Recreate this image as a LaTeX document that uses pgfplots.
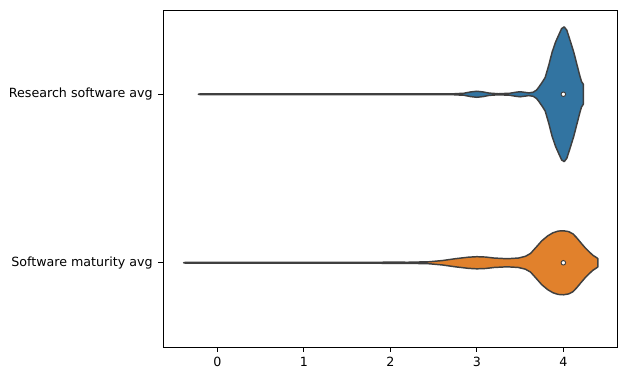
\documentclass[border=0pt]{standalone}
\usepackage{fontspec}
\setmainfont{DejaVu Sans}
\usepackage{pgfplots}
\pgfplotsset{compat=1.18}
\definecolor{vblue}{HTML}{3274A1}
\definecolor{vorange}{HTML}{E1812C}
\definecolor{edge}{HTML}{3F3F3F}
\begin{document}
\begin{tikzpicture}
\path[use as bounding box] (-122.25pt,-24.75pt) rectangle (348pt,260.25pt);
\begin{axis}[
  at={(0,0)}, anchor=south west,
  scale only axis, width=340.5pt, height=252.75pt,
  xmin=-0.628, xmax=4.62, ymin=-0.5, ymax=1.5,
  y dir=reverse,
  xtick={0,1,2,3,4},
  ytick={0,1},
  xtick pos=bottom, ytick pos=left,
  yticklabels={Research software avg, Software maturity avg},
  tick align=outside,
  major tick length=3.65pt,
  tick style={black, line width=0.7pt},
  axis line style={black, line width=0.7pt},
  ticklabel style={font=\fontsize{9.5}{11.5}\selectfont},
  /pgf/number format/assume math mode=true,
  xticklabel style={yshift=-0.5pt},
  yticklabel style={xshift=-0.5pt},
]
% Research software avg (category 0)
\addplot[fill=vblue, draw=edge, line width=1.1pt, line join=round] coordinates {
(-0.22,0) (-0.2,-0.002) (2.7,-0.002) (2.85,-0.006) (2.93,-0.014) (3.0,-0.018) (3.07,-0.014) (3.14,-0.007) (3.25,-0.003)
(3.38,-0.006) (3.45,-0.012) (3.5,-0.015) (3.56,-0.011) (3.6,-0.008) (3.65,-0.012) (3.69,-0.025) (3.72,-0.045)
(3.76,-0.075) (3.79,-0.10) (3.83,-0.17) (3.87,-0.25) (3.91,-0.31) (3.95,-0.356) (3.98,-0.39) (4.01,-0.40)
(4.04,-0.38) (4.08,-0.316) (4.12,-0.25) (4.155,-0.18) (4.19,-0.11) (4.21,-0.075) (4.23,-0.06)
(4.23,0.06) (4.21,0.075) (4.19,0.11) (4.155,0.18) (4.12,0.25) (4.08,0.316) (4.04,0.38) (4.01,0.40)
(3.98,0.39) (3.95,0.356) (3.91,0.31) (3.87,0.25) (3.83,0.17) (3.79,0.10) (3.76,0.075) (3.72,0.045)
(3.69,0.025) (3.65,0.012) (3.6,0.008) (3.56,0.011) (3.5,0.015) (3.45,0.012) (3.38,0.006) (3.25,0.003)
(3.14,0.007) (3.07,0.014) (3.0,0.018) (2.93,0.014) (2.85,0.006) (2.7,0.002) (-0.2,0.002)
} -- cycle;
% Software maturity avg (category 1)
\addplot[fill=vorange, draw=edge, line width=1.1pt, line join=round] coordinates {
(-0.39,1) (-0.37,0.998) (1.8,0.998) (2.0,0.996) (2.2,0.997) (2.45,0.994) (2.6,0.987) (2.75,0.976) (2.9,0.967)
(3.0,0.964) (3.1,0.966) (3.2,0.972) (3.35,0.976) (3.48,0.972) (3.56,0.962) (3.62,0.945) (3.69,0.905)
(3.75,0.87) (3.82,0.84) (3.88,0.822) (3.94,0.812) (4.0,0.81) (4.06,0.815) (4.11,0.828) (4.155,0.852)
(4.2,0.88) (4.25,0.91) (4.29,0.931) (4.34,0.955) (4.385,0.97) (4.40,0.976)
(4.40,1.024) (4.385,1.03) (4.34,1.045) (4.29,1.069) (4.25,1.09) (4.2,1.12) (4.155,1.148) (4.11,1.172)
(4.06,1.185) (4.0,1.19) (3.94,1.188) (3.88,1.178) (3.82,1.16) (3.75,1.13) (3.69,1.095) (3.62,1.055)
(3.56,1.038) (3.48,1.028) (3.35,1.024) (3.2,1.028) (3.1,1.034) (3.0,1.036) (2.9,1.033) (2.75,1.024)
(2.6,1.013) (2.45,1.006) (2.2,1.003) (2.0,1.004) (1.8,1.002) (-0.37,1.002)
} -- cycle;
% medians
\addplot[only marks, mark=*, mark size=1.7pt, mark options={fill=white, draw=edge, line width=0.7pt}] coordinates {(4,0) (4,1)};
\end{axis}
\end{tikzpicture}
\end{document}
